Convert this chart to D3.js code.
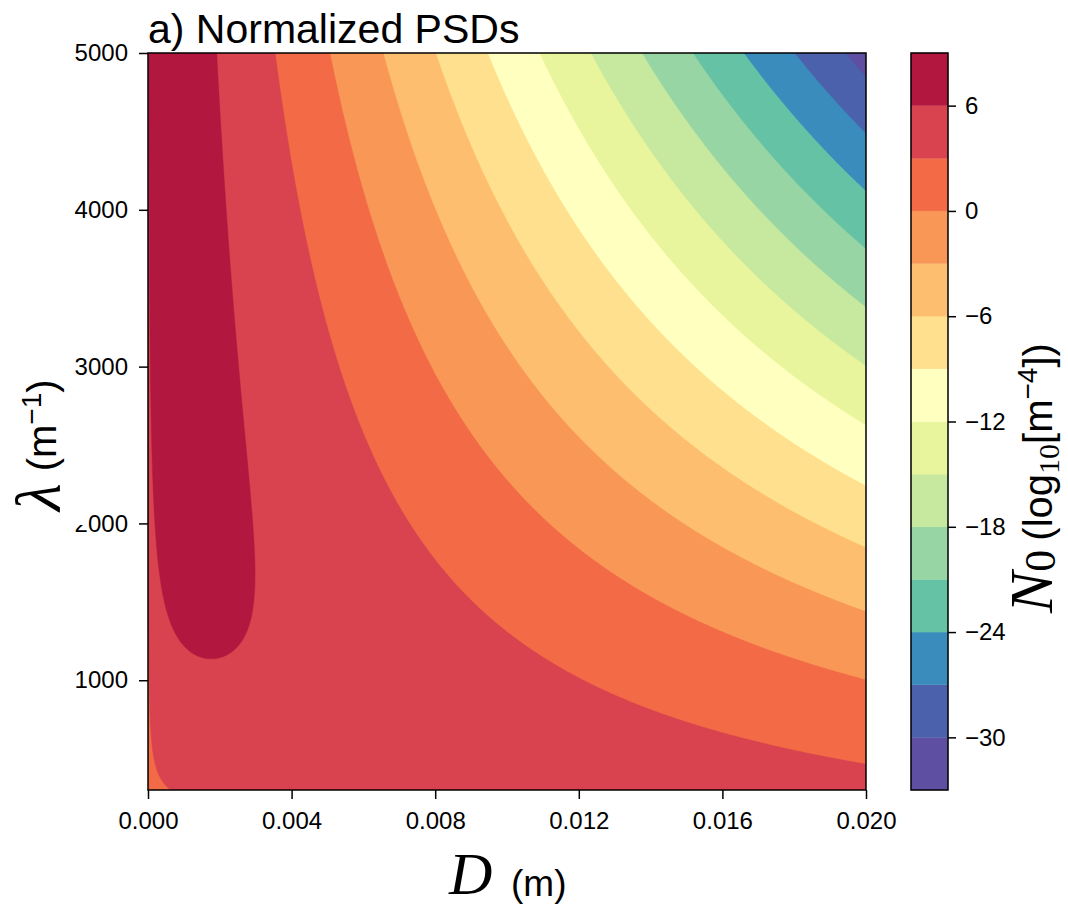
<!DOCTYPE html>
<html><head><meta charset="utf-8">
<script src="https://cdn.jsdelivr.net/npm/d3@7"></script>
<style>
body{margin:0;background:#fff}
svg{display:block}
</style>
</head><body>
<svg id="chart" width="1068" height="907"></svg>
<script>
// ---- data ----
const title = "a) Normalized PSDs";
const dDomain = [0, 0.02];              // D (m)
const lambdaDomain = [300, 5000];       // lambda (m^-1)
const xTicks = [0, 0.004, 0.008, 0.012, 0.016, 0.020];
const xTickLabels = ["0.000", "0.004", "0.008", "0.012", "0.016", "0.020"];
const yTicks = [1000, 2000, 3000, 4000, 5000];
const levels = [-33, -30, -27, -24, -21, -18, -15, -12, -9, -6, -3, 0, 3, 6, 9];
const bandColors = ["#5e4fa2", "#4c61ab", "#3a8cbd", "#66c2a5", "#97d5a4", "#c7e89f",
  "#e8f59c", "#ffffbf", "#fee08f", "#fdbf6f", "#f99757", "#f26b46", "#d8434f", "#b2183f"];
const cbarTicks = [6, 0, -6, -12, -18, -24, -30];
// gamma PSD  N(D) = N0 * D^mu * exp(-lambda D), N0 normalised ~ lambda^p  (log10 values)
const psdShape = 2;
const lambdaPower = 5;
const log10Offset = -2.9;

const SANS = "'Liberation Sans', Arial, Helvetica, sans-serif";
const SERIF = "'Liberation Serif', 'Times New Roman', 'DejaVu Serif', serif";

// ---- layout ----
const M = {left: 148, right: 866, top: 53, bottom: 790};
const W = M.right - M.left, H = M.bottom - M.top;
const svg = d3.select("#chart").style("font-family", SANS);

const x = d3.scaleLinear().domain(dDomain).range([M.left, M.right]);
const y = d3.scaleLinear().domain(lambdaDomain).range([M.bottom, M.top]);

// grid
const nx = W, ny = H;
const gx = d3.scaleLinear().domain([0, nx]).range(dDomain);
const gy = d3.scaleLinear().domain([0, ny]).range([lambdaDomain[1], lambdaDomain[0]]);
const values = new Float64Array(nx * ny);
for (let j = 0; j < ny; j++) {
  const lam = gy(j + 0.5);
  for (let i = 0; i < nx; i++) {
    const D = gx(i + 0.5);
    values[j * nx + i] = log10Offset + lambdaPower * Math.log10(lam) + psdShape * Math.log10(D) - lam * D * Math.LOG10E;
  }
}
const thresholds = levels.slice(1, -1);
const color = d3.scaleThreshold().domain(thresholds).range(bandColors);
const contours = d3.contours().size([nx, ny]).thresholds(thresholds)(values);
const proj = d3.geoTransform({point(px, py) { this.stream.point(x(gx(px)), y(gy(py))); }});
const path = d3.geoPath(proj);

svg.append("clipPath").attr("id", "clip").append("rect")
  .attr("x", M.left).attr("y", M.top).attr("width", W).attr("height", H);
const plot = svg.append("g").attr("clip-path", "url(#clip)");
plot.append("rect").attr("x", M.left).attr("y", M.top).attr("width", W).attr("height", H)
  .attr("fill", bandColors[0]);
plot.selectAll("path.band").data(contours).join("path")
  .attr("class", "band")
  .attr("d", path)
  .attr("fill", d => color(d.value))
  .attr("stroke", d => color(d.value))
  .attr("stroke-width", 0.4);

// axes
const xAxis = svg.append("g").attr("transform", `translate(0,${M.bottom})`)
  .call(d3.axisBottom(x).tickValues(xTicks).tickFormat((d, i) => xTickLabels[i]).tickSize(9).tickPadding(13));
const yAxis = svg.append("g").attr("transform", `translate(${M.left},0)`)
  .call(d3.axisLeft(y).tickValues(yTicks).tickFormat(d3.format("d")).tickSize(9).tickPadding(11));
[xAxis, yAxis].forEach(a => {
  a.select(".domain").remove();
  a.selectAll(".tick line").attr("stroke", "#000").attr("stroke-width", 1.5);
  a.selectAll(".tick text").attr("font-size", 24).style("font-family", SANS).attr("fill", "#000");
});
svg.append("rect").attr("x", M.left).attr("y", M.top).attr("width", W).attr("height", H)
  .attr("fill", "none").attr("stroke", "#000").attr("stroke-width", 1.5);

// title
svg.append("text").attr("x", 148).attr("y", 43).attr("font-size", 41).text(title);

// x label
svg.append("text").attr("x", 449).attr("y", 894)
  .style("font-family", SERIF).style("font-style", "italic")
  .attr("font-size", 60).text("D");
svg.append("text").attr("x", 511).attr("y", 896).attr("font-size", 37).text("(m)");

// y label (white box hides part of a tick label as in the reference)
svg.append("rect").attr("x", 16).attr("y", 452).attr("width", 72).attr("height", 73).attr("fill", "#fff");
const yl = svg.append("text").attr("transform", "translate(60,511) rotate(-90)");
yl.append("tspan").style("font-family", SERIF).style("font-style", "italic")
  .attr("font-size", 64).text("λ");
yl.append("tspan").attr("dx", 12).attr("font-size", 40).attr("dy", -4).text("(m");
yl.append("tspan").attr("font-size", 28).attr("dy", -15).text("−1");
yl.append("tspan").attr("font-size", 40).attr("dy", 15).text(")");

// colorbar
const CB = {x: 911, w: 37};
const cb = d3.scaleLinear().domain([levels[0], levels[levels.length - 1]]).range([M.bottom, M.top]);
const cbg = svg.append("g");
cbg.selectAll("rect").data(d3.range(bandColors.length)).join("rect")
  .attr("x", CB.x).attr("width", CB.w)
  .attr("y", i => cb(levels[i + 1])).attr("height", i => cb(levels[i]) - cb(levels[i + 1]))
  .attr("fill", i => bandColors[i]).attr("stroke", i => bandColors[i]).attr("stroke-width", 0.3);
svg.append("rect").attr("x", CB.x).attr("y", cb(levels[levels.length - 1])).attr("width", CB.w)
  .attr("height", cb(levels[0]) - cb(levels[levels.length - 1]))
  .attr("fill", "none").attr("stroke", "#000").attr("stroke-width", 1.5);
const cAxis = svg.append("g").attr("transform", `translate(${CB.x + CB.w},0)`)
  .call(d3.axisRight(cb).tickValues(cbarTicks).tickFormat(d => d < 0 ? "−" + Math.abs(d) : String(d)).tickSize(8).tickPadding(9));
cAxis.select(".domain").remove();
cAxis.selectAll(".tick line").attr("stroke", "#000").attr("stroke-width", 1.5);
cAxis.selectAll(".tick text").attr("font-size", 24).style("font-family", SANS).attr("fill", "#000");

// colorbar label
const cl = svg.append("text").attr("transform", "translate(1052,613) rotate(-90)");
cl.append("tspan").style("font-family", SERIF).style("font-style", "italic")
  .attr("font-size", 62).text("N");
cl.append("tspan").style("font-family", SERIF)
  .attr("font-size", 44).attr("dy", 3).text("0");
cl.append("tspan").attr("dx", 9).attr("dy", -3).attr("font-size", 40).text("(log");
cl.append("tspan").style("font-family", SERIF).attr("font-size", 30).attr("dy", 7).text("10");
cl.append("tspan").attr("font-size", 40).attr("dy", -7).text("[m");
cl.append("tspan").attr("font-size", 28).attr("dy", -15).text("−4");
cl.append("tspan").attr("font-size", 40).attr("dy", 15).text("])");
</script>
</body></html>
